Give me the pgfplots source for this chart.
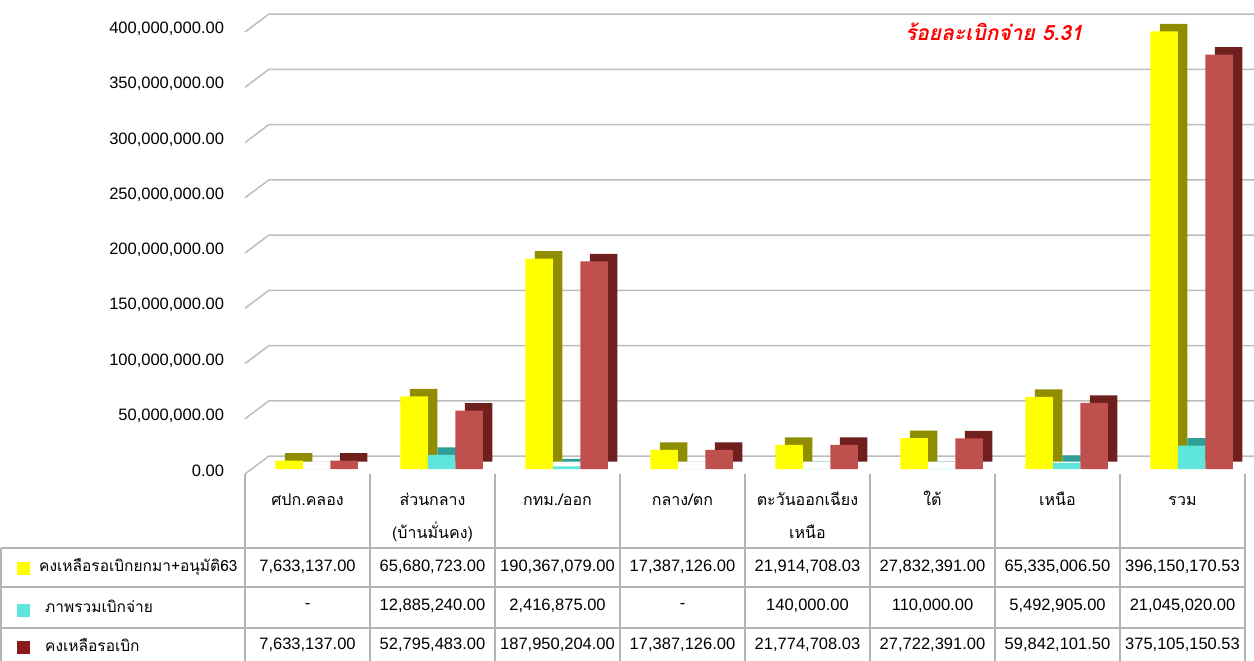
\documentclass[border=0pt]{standalone}
\usepackage{fontspec}
\usepackage{pgfplots}
\usepackage{pgfplotstable}
\pgfplotsset{compat=1.18}
\setmainfont{Liberation Sans}
\newfontfamily\thaifont[Script=Thai]{Loma}
\definecolor{gridc}{HTML}{BDBDBD}
\definecolor{tabc}{HTML}{B4B4B4}
\definecolor{yfront}{HTML}{FFFF00}
\definecolor{yside}{HTML}{8E8E00}
\definecolor{cfront}{HTML}{5FE6DC}
\definecolor{cside}{HTML}{2E9E97}
\definecolor{rfront}{HTML}{C0504D}
\definecolor{rside}{HTML}{6E1F1E}
\definecolor{rleg}{HTML}{8B1A1A}

\pgfplotstableread{
x a b c
0.5 7633137.00 0 7633137.00
1.5 65680723.00 12885240.00 52795483.00
2.5 190367079.00 2416875.00 187950204.00
3.5 17387126.00 0 17387126.00
4.5 21914708.03 140000.00 21774708.03
5.5 27832391.00 110000.00 27722391.00
6.5 65335006.50 5492905.00 59842101.50
7.5 396150170.53 21045020.00 375105150.53
}\datatable

\begin{document}
\begin{tikzpicture}
\useasboundingbox (0pt,-661pt) rectangle (1254pt,0pt);
\begin{axis}[
  at={(245pt,-469pt)}, anchor=south west,
  scale only axis, width=1000pt, height=442pt,
  xmin=0, xmax=8, ymin=0, ymax=400000000,
  axis line style={draw=none},
  major tick length=0pt,
  scaled y ticks=false,
  ytick={0,50000000,100000000,150000000,200000000,250000000,300000000,350000000,400000000},
  yticklabels={{0.00},{50,000,000.00},{100,000,000.00},{150,000,000.00},{200,000,000.00},{250,000,000.00},{300,000,000.00},{350,000,000.00},{400,000,000.00}},
  yticklabel style={font=\fontsize{16.5}{19}\selectfont, anchor=east, xshift=-17.5pt, yshift=-2pt},
  xtick={0.5,1.5,2.5,3.5,4.5,5.5,6.5,7.5},
  xticklabels={{\strut ศปก.คลอง},{\strut ส่วนกลาง\\\strut (บ้านมั่นคง)},{\strut กทม./ออก},{\strut กลาง/ตก},{\strut ตะวันออกเฉียง\\\strut เหนือ},{\strut ใต้},{\strut เหนือ},{\strut รวม}},
  xticklabel style={font=\thaifont\fontsize{16}{33}\selectfont, align=center, anchor=north, inner sep=0pt, yshift=-12.9pt},
  ybar, bar width=27.5pt,
  clip=false,
]
\pgfplotsinvokeforeach{0,50000000,100000000,150000000,200000000,250000000,300000000,350000000,400000000}{
  \draw[gridc, line width=1.5pt] (axis cs:0,#1) ++(0pt,-5pt) -- ++(24pt,18pt) -- ++(1000pt,0pt);
}
\addplot[fill=yside, draw=none, bar shift=-18.5pt, xshift=9.5pt, yshift=7.5pt] table[x=x,y=a]{\datatable};
\addplot[fill=yfront, draw=none, bar shift=-18.5pt] table[x=x,y=a]{\datatable};
\addplot[fill=cside, draw=none, bar shift=9pt, xshift=9.5pt, yshift=7.5pt] table[x=x,y=b]{\datatable};
\addplot[fill=cfront, draw=none, bar shift=9pt] table[x=x,y=b]{\datatable};
\addplot[fill=rside, draw=none, bar shift=36.5pt, xshift=9.5pt, yshift=7.5pt] table[x=x,y=c]{\datatable};
\addplot[fill=rfront, draw=none, bar shift=36.5pt] table[x=x,y=c]{\datatable};
\end{axis}

\begin{scope}[x=1pt, y=-1pt]
% title
\node[text=red, font=\thaifont\bfseries\itshape\fontsize{21}{24}\selectfont] at (994,32) {ร้อยละเบิกจ่าย 5.31};
% table lines
\foreach \xx in {245,370,495,620,745,870,995,1120,1245}
  \draw[tabc, line width=1.5pt] (\xx,474) -- (\xx,661);
\draw[tabc, line width=1.5pt] (1,548) -- (1,661);
\foreach \yy in {548,587,628}
  \draw[tabc, line width=1.5pt] (1,\yy) -- (1245,\yy);
% legend keys
\fill[yfront] (17,562) rectangle (30,575);
\fill[cfront] (17,604) rectangle (30,617);
\fill[rleg] (17,641) rectangle (30,654);
\node[anchor=west, font=\thaifont\fontsize{15.5}{19}\selectfont, inner sep=0pt] at (39,567) {คงเหลือรอเบิกยกมา+อนุมัติ63};
\node[anchor=west, font=\thaifont\fontsize{15.5}{19}\selectfont, inner sep=0pt] at (45,606) {ภาพรวมเบิกจ่าย};
\node[anchor=west, font=\thaifont\fontsize{15.5}{19}\selectfont, inner sep=0pt] at (45,645) {คงเหลือรอเบิก};
% values
\def\rowA{{7,633,137.00},{65,680,723.00},{190,367,079.00},{17,387,126.00},{21,914,708.03},{27,832,391.00},{65,335,006.50},{396,150,170.53}}
\foreach \v [count=\i from 0] in \rowA
  \node[font=\fontsize{16.5}{19}\selectfont] at (307.5+125*\i,567) {\v};
\def\rowB{{-},{12,885,240.00},{2,416,875.00},{-},{140,000.00},{110,000.00},{5,492,905.00},{21,045,020.00}}
\foreach \v [count=\i from 0] in \rowB
  \node[font=\fontsize{16.5}{19}\selectfont] at (307.5+125*\i,606) {\v};
\def\rowC{{7,633,137.00},{52,795,483.00},{187,950,204.00},{17,387,126.00},{21,774,708.03},{27,722,391.00},{59,842,101.50},{375,105,150.53}}
\foreach \v [count=\i from 0] in \rowC
  \node[font=\fontsize{16.5}{19}\selectfont] at (307.5+125*\i,645) {\v};
\end{scope}
\end{tikzpicture}
\end{document}
